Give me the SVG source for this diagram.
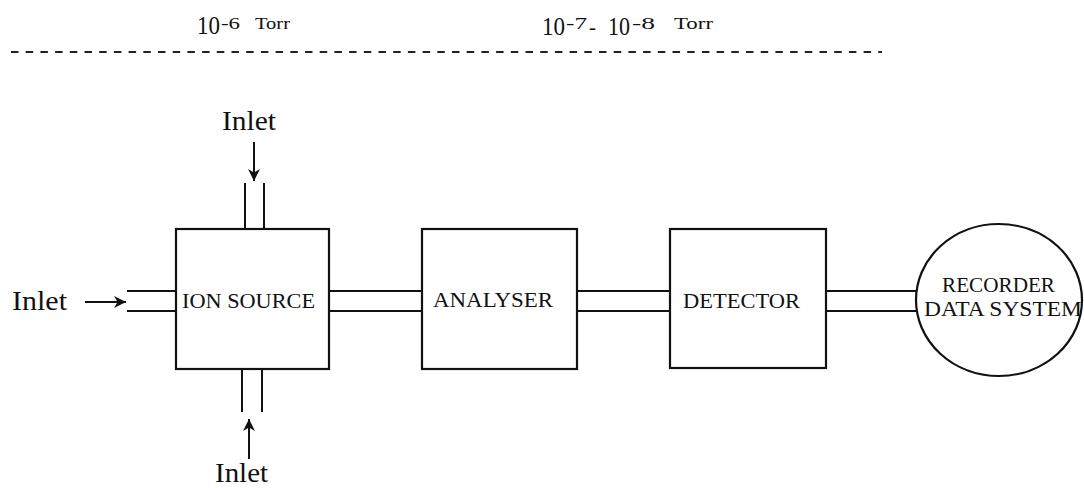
<svg xmlns="http://www.w3.org/2000/svg" width="1084" height="488" viewBox="0 0 1084 488">
<style>
.ln{stroke:#111;stroke-width:2;fill:none}
.box{stroke:#111;stroke-width:2.2;fill:#fff}
.lbl{font-family:"Liberation Serif",serif;font-size:21px;fill:#111}
.inl{font-family:"Liberation Serif",serif;font-size:28px;fill:#111}
.p{font-family:"Liberation Serif",serif;fill:#111}
.arr{stroke:#111;stroke-width:2;fill:none;marker-end:url(#ah)}
</style>
<defs>
<marker id="ah" viewBox="0 0 10 10" refX="10" refY="5" markerWidth="6" markerHeight="6" orient="auto" markerUnits="strokeWidth">
<path d="M0,0 L10,5 L0,10 L3,5 Z" fill="#111"/>
</marker>
</defs>
<rect width="1084" height="488" fill="#fff"/>
<g id="pressure">
<line x1="11" y1="52" x2="882" y2="52" stroke="#222" stroke-width="2" stroke-dasharray="7.5 7.2"/>
<text class="p" x="197" y="34" font-size="25" textLength="23" lengthAdjust="spacingAndGlyphs">10</text>
<text class="p" x="221" y="29" font-size="17" textLength="19" lengthAdjust="spacingAndGlyphs">-6</text>
<text class="p" x="255" y="29" font-size="17" textLength="35" lengthAdjust="spacingAndGlyphs">Torr</text>
<text class="p" x="542" y="35" font-size="25" textLength="23" lengthAdjust="spacingAndGlyphs">10</text>
<text class="p" x="566" y="29" font-size="17" textLength="21" lengthAdjust="spacingAndGlyphs">-7</text>
<text class="p" x="589" y="34" font-size="22" textLength="7" lengthAdjust="spacingAndGlyphs">-</text>
<text class="p" x="608" y="35" font-size="25" textLength="22" lengthAdjust="spacingAndGlyphs">10</text>
<text class="p" x="632" y="29" font-size="17" textLength="23" lengthAdjust="spacingAndGlyphs">-8</text>
<text class="p" x="674" y="29" font-size="17" textLength="39" lengthAdjust="spacingAndGlyphs">Torr</text>
</g>
<g id="connectors">
<line class="ln" x1="245" y1="183" x2="245" y2="229"/>
<line class="ln" x1="264" y1="183" x2="264" y2="229"/>
<line class="arr" x1="254" y1="142" x2="254" y2="181"/>
<line class="ln" x1="127" y1="291" x2="176" y2="291"/>
<line class="ln" x1="127" y1="311" x2="176" y2="311"/>
<line class="arr" x1="85" y1="302" x2="126" y2="302"/>
<line class="ln" x1="242" y1="369" x2="242" y2="412"/>
<line class="ln" x1="262" y1="369" x2="262" y2="412"/>
<line class="arr" x1="249" y1="459" x2="249" y2="419"/>
<line class="ln" x1="329" y1="291" x2="422" y2="291"/>
<line class="ln" x1="329" y1="311" x2="422" y2="311"/>
<line class="ln" x1="577" y1="291" x2="670" y2="291"/>
<line class="ln" x1="577" y1="311" x2="670" y2="311"/>
<line class="ln" x1="826" y1="291" x2="917" y2="291"/>
<line class="ln" x1="826" y1="311" x2="917" y2="311"/>
</g>
<g id="inlet-top"><text class="inl" x="222" y="130" textLength="54" lengthAdjust="spacingAndGlyphs">Inlet</text></g>
<g id="inlet-left"><text class="inl" x="12" y="310" textLength="55" lengthAdjust="spacingAndGlyphs">Inlet</text></g>
<g id="inlet-bottom"><text class="inl" x="215" y="482" textLength="53" lengthAdjust="spacingAndGlyphs">Inlet</text></g>
<g id="ion-source">
<rect class="box" x="176" y="229" width="153" height="140"/>
<text class="lbl" x="182" y="308" textLength="133" lengthAdjust="spacingAndGlyphs">ION SOURCE</text>
</g>
<g id="analyser">
<rect class="box" x="422" y="229" width="155" height="140"/>
<text class="lbl" x="433" y="307" textLength="120" lengthAdjust="spacingAndGlyphs">ANALYSER</text>
</g>
<g id="detector">
<rect class="box" x="670" y="229" width="156" height="139"/>
<text class="lbl" x="683" y="308" textLength="117" lengthAdjust="spacingAndGlyphs">DETECTOR</text>
</g>
<g id="recorder">
<ellipse class="box" cx="999" cy="300" rx="83" ry="76"/>
<text class="lbl" x="942" y="292" textLength="113" lengthAdjust="spacingAndGlyphs">RECORDER</text>
<text class="lbl" x="924" y="316" textLength="158" lengthAdjust="spacingAndGlyphs">DATA SYSTEM</text>
</g>
</svg>
